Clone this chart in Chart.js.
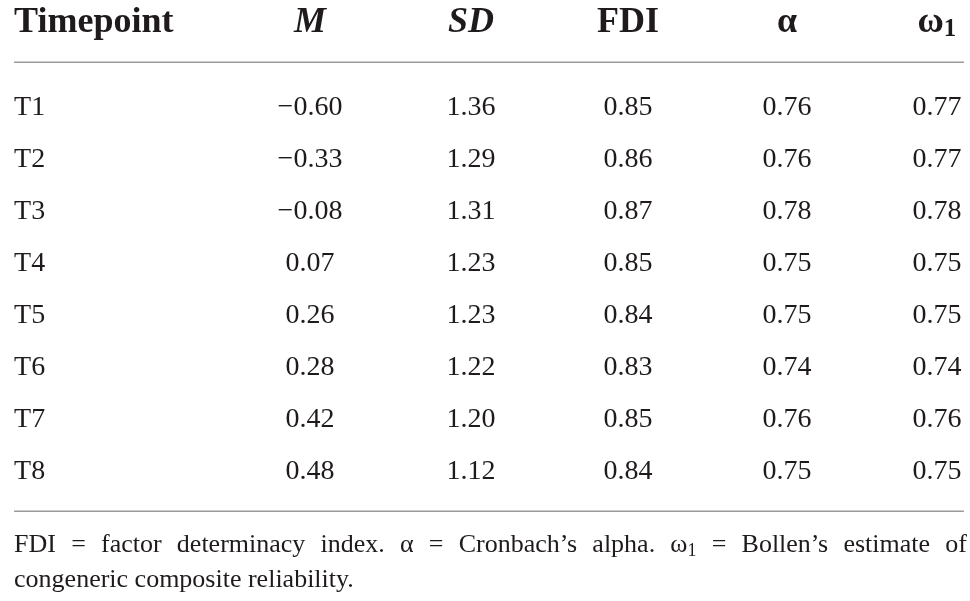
<!DOCTYPE html>
<html>
<head>
<meta charset="utf-8">
<script src="https://cdn.jsdelivr.net/npm/chart.js@4.4.1/dist/chart.umd.min.js"></script>
<style>
  html, body { margin: 0; padding: 0; background: #ffffff; }
  #wrap { width: 970px; height: 601px; }
</style>
</head>
<body>
<div id="wrap"><canvas id="c" width="970" height="601"></canvas></div>
<script>
// ---- data ----
const timepoints = ['T1', 'T2', 'T3', 'T4', 'T5', 'T6', 'T7', 'T8'];
const meanM      = [-0.60, -0.33, -0.08, 0.07, 0.26, 0.28, 0.42, 0.48];
const sdValues   = [1.36, 1.29, 1.31, 1.23, 1.23, 1.22, 1.20, 1.12];
const fdiValues  = [0.85, 0.86, 0.87, 0.85, 0.84, 0.83, 0.85, 0.84];
const alphaValues = [0.76, 0.76, 0.78, 0.75, 0.75, 0.74, 0.76, 0.75];
const omegaValues = [0.77, 0.77, 0.78, 0.75, 0.75, 0.74, 0.76, 0.75];
const columnHeaders = ['Timepoint', 'M', 'SD', 'FDI', 'α', 'ω₁'];
const footnoteLine1 = 'FDI = factor determinacy index. α = Cronbach’s alpha. ω₁ = Bollen’s estimate of';
const footnoteLine2 = 'congeneric composite reliability.';

// ---- styles / layout ----
const INK = '#1f1b1c';
const RULE = '#9a9a9a';
const SERIF = '"Liberation Serif", "Times New Roman", serif';
const BODY_FONT = '28px ' + SERIF;
const headerFonts = ['bold 36px ', 'italic bold 36px ', 'italic bold 36px ', 'bold 36px ', 'bold 36px ', 'bold 36px '];
const FOOT_SIZE = 26;
const COL_POS = [-0.885, 1, 2.025, 3.025, 4.038, 4.993]; // column anchor positions (x-scale units)
const X_RIGHT = 5.165;        // right end of rules / footnote
const HEADER_ROW = -1.596;
const RULE_TOP = -1.019;
const RULE_BOTTOM = 7.606;
const FOOT_ROW1 = 8.404;
const FOOT_ROW2 = 9.077;

const fmt = v => v.toFixed(2).replace('-', '\u2212');
const columns = [
  timepoints,
  meanM.map(fmt),
  sdValues.map(fmt),
  fdiValues.map(fmt),
  alphaValues.map(fmt),
  omegaValues.map(fmt)
];

const datasets = columns.map((texts, c) => ({
  label: columnHeaders[c],
  data: texts.map((_, r) => ({ x: COL_POS[c], y: r })),
  cellText: texts,
  cellAlign: c === 0 ? 'left' : 'center',
  pointRadius: 0,
  pointHoverRadius: 0,
  showLine: false
}));

// draws text where '₁' is rendered as a subscript 1
function partsOf(str) {
  const out = [];
  let buf = '';
  for (const ch of str) {
    if (ch === '₁') { if (buf) out.push({ t: buf, sub: false }); buf = ''; out.push({ t: '1', sub: true }); }
    else buf += ch;
  }
  if (buf) out.push({ t: buf, sub: false });
  return out;
}
function measureRich(ctx, str, mainFont, subFont) {
  let w = 0;
  for (const p of partsOf(str)) { ctx.font = p.sub ? subFont : mainFont; w += ctx.measureText(p.t).width; }
  return w;
}
function drawRich(ctx, str, x, y, mainFont, subFont, subDrop) {
  for (const p of partsOf(str)) {
    ctx.font = p.sub ? subFont : mainFont;
    ctx.fillText(p.t, x, p.sub ? y + subDrop : y);
    x += ctx.measureText(p.t).width;
  }
  return x;
}

const tablePlugin = {
  id: 'tableText',
  afterDatasetsDraw(chart) {
    const ctx = chart.ctx;
    const xs = chart.scales.x, ys = chart.scales.y;
    ctx.save();
    ctx.fillStyle = INK;
    ctx.textBaseline = 'alphabetic';

    chart.data.datasets.forEach((ds, di) => {
      const meta = chart.getDatasetMeta(di);
      ctx.font = BODY_FONT;
      ctx.textAlign = ds.cellAlign;
      meta.data.forEach((el, i) => ctx.fillText(ds.cellText[i], el.x, el.y));

      // header
      const hx = xs.getPixelForValue(ds.data[0].x);
      const hy = ys.getPixelForValue(HEADER_ROW);
      const mf = headerFonts[di] + SERIF;
      const sf = 'bold 25px ' + SERIF;
      ctx.textAlign = 'left';
      const w = measureRich(ctx, columnHeaders[di], mf, sf);
      const startX = ds.cellAlign === 'left' ? hx : hx - w / 2;
      drawRich(ctx, columnHeaders[di], startX, hy, mf, sf, 4);
    });

    // rules
    const left = xs.getPixelForValue(COL_POS[0]);
    const right = xs.getPixelForValue(X_RIGHT);
    ctx.strokeStyle = RULE;
    ctx.lineWidth = 1.5;
    [RULE_TOP, RULE_BOTTOM].forEach(v => {
      const y = Math.round(ys.getPixelForValue(v)) + 0.25;
      ctx.beginPath(); ctx.moveTo(left, y); ctx.lineTo(right, y); ctx.stroke();
    });

    // footnote, first line justified
    const fm = FOOT_SIZE + 'px ' + SERIF;
    const fs = Math.round(FOOT_SIZE * 0.68) + 'px ' + SERIF;
    ctx.textAlign = 'left';
    const words = footnoteLine1.split(' ');
    const widths = words.map(wd => measureRich(ctx, wd, fm, fs));
    const total = widths.reduce((a, b) => a + b, 0);
    const textRight = right + 3;
    const gap = (textRight - left - total) / (words.length - 1);
    let x = left;
    const y1 = ys.getPixelForValue(FOOT_ROW1);
    words.forEach((wd, i) => { drawRich(ctx, wd, x, y1, fm, fs, 4); x += widths[i] + gap; });
    ctx.font = fm;
    ctx.fillText(footnoteLine2, left, ys.getPixelForValue(FOOT_ROW2));
    ctx.restore();
  }
};

new Chart(document.getElementById('c'), {
  type: 'scatter',
  data: { datasets },
  options: {
    responsive: false,
    animation: false,
    events: [],
    layout: { padding: 0 },
    plugins: { legend: { display: false }, tooltip: { enabled: false } },
    scales: {
      x: { type: 'linear', display: false, min: -0.9745, max: 5.2038 },
      y: { type: 'linear', display: false, reverse: true, min: -2.2115, max: 9.3462 }
    }
  },
  plugins: [tablePlugin]
});
</script>
</body>
</html>
